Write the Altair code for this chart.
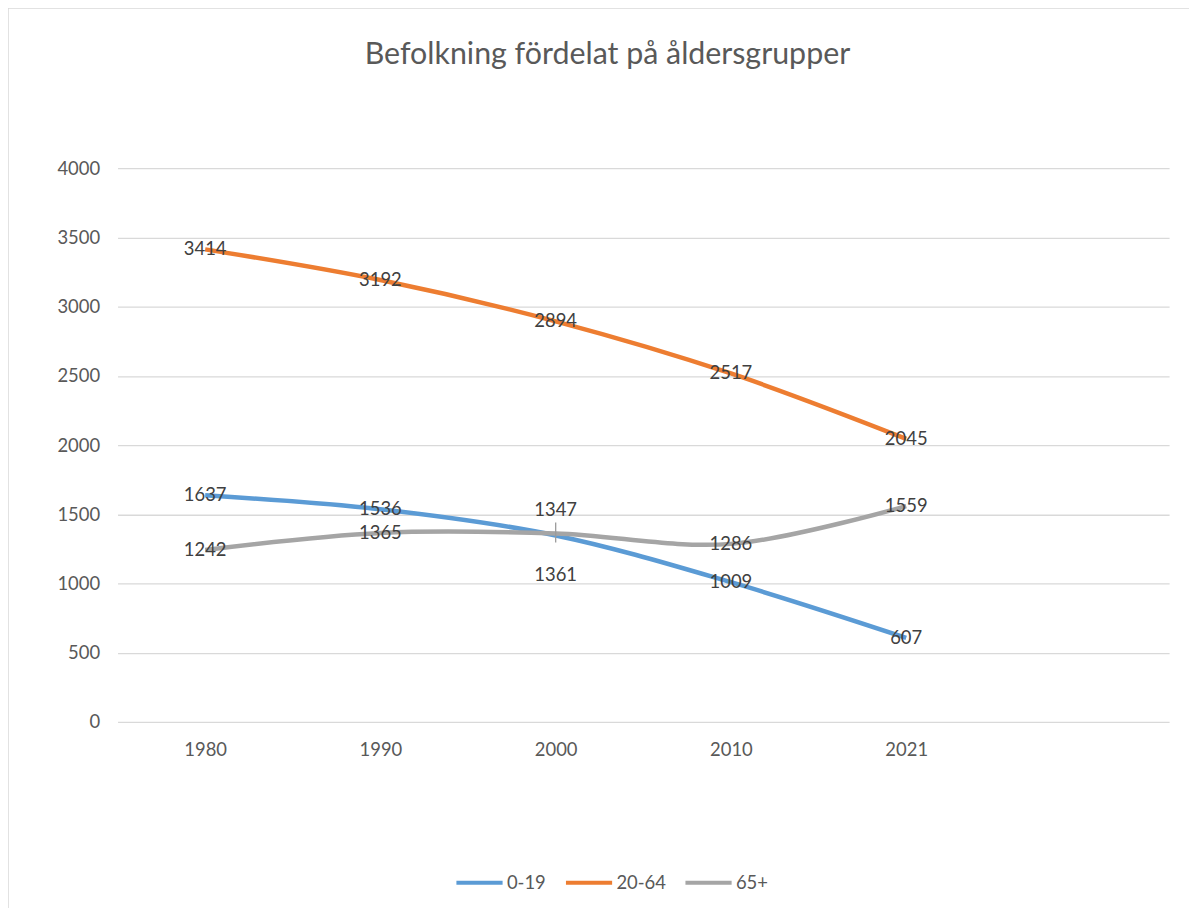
import altair as alt
import pandas as pd

years = ["1980", "1990", "2000", "2010", "2021"]
x_domain = years + [""]
groups = ["0-19", "20-64", "65+"]
v_0_19 = [1637, 1536, 1347, 1009, 607]
v_20_64 = [3414, 3192, 2894, 2517, 2045]
v_65 = [1242, 1365, 1361, 1286, 1559]
colors = ["#5B9BD5", "#ED7D31", "#A5A5A5"]
title_text = "Befolkning fördelat på åldersgrupper"

rows = []
for g, vals in zip(groups, [v_0_19, v_20_64, v_65]):
    for y, v in zip(years, vals):
        rows.append({"year": y, "group": g, "value": v})
df = pd.DataFrame(rows)

W, H = 1056, 556
FONT = "Lato"
TXT = "#595959"
FS = 18.5

x = alt.X("year:N", scale=alt.Scale(domain=x_domain, type="point", padding=0.5),
          axis=alt.Axis(title=None, labelAngle=0, domain=False, ticks=False,
                        labelPadding=19, labelFontSize=FS, labelColor=TXT, labelFont=FONT))
y = alt.Y("value:Q", scale=alt.Scale(domain=[0, 4000], nice=False),
          axis=alt.Axis(title=None, values=list(range(0, 4001, 500)), format="d",
                        domain=False, ticks=False,
                        labelPadding=18, labelFontSize=FS, labelColor=TXT, labelFont=FONT,
                        gridColor="#D9D9D9", gridWidth=1.3))
color = alt.Color("group:N", scale=alt.Scale(domain=groups, range=colors),
                  legend=alt.Legend(title=None, orient="none", direction="horizontal",
                                    legendX=338, legendY=692, symbolType="stroke",
                                    symbolSize=2150, symbolStrokeWidth=4,
                                    labelFontSize=FS, labelColor=TXT, labelFont=FONT,
                                    labelOffset=2, columnPadding=11))

base = alt.Chart(df)

border = alt.Chart(pd.DataFrame({"a": [0]})).mark_rect(
    fill=None, stroke="#D9D9D9", strokeWidth=1.5
).encode(x=alt.value(-110), x2=alt.value(W + 30), y=alt.value(-161), y2=alt.value(H + 200))

title = alt.Chart(pd.DataFrame({"t": [title_text]})).mark_text(
    font=FONT, fontSize=30.5, color=TXT, align="center", baseline="alphabetic"
).encode(x=alt.value(492), y=alt.value(-105), text="t:N")

lines = base.mark_line(strokeWidth=4.5, interpolate="catmull-rom").encode(x=x, y=y, color=color)

special = (alt.datum.year == "2000") & (alt.datum.group != "20-64")

lbl_main = base.transform_filter(~special).mark_text(
    fontSize=FS, color="#404040", font=FONT, baseline="middle", align="center"
).encode(x=x, y=y, text="value:Q")

lbl_up = base.transform_filter((alt.datum.year == "2000") & (alt.datum.group == "0-19")).mark_text(
    fontSize=FS, color="#404040", font=FONT, baseline="middle", align="center", dy=-26
).encode(x=x, y=y, text="value:Q")

lbl_down = base.transform_filter((alt.datum.year == "2000") & (alt.datum.group == "65+")).mark_text(
    fontSize=FS, color="#404040", font=FONT, baseline="middle", align="center", dy=42
).encode(x=x, y=y, text="value:Q")

leader = base.transform_filter((alt.datum.year == "2000") & (alt.datum.group == "65+")).mark_rule(
    color="#9A9A9A", strokeWidth=1.3, yOffset=-11, y2Offset=9
).encode(x=x, y=y, y2="value:Q")

chart = alt.layer(border, title, lines, leader, lbl_main, lbl_up, lbl_down).properties(
    width=W, height=H,
    autosize=alt.AutoSizeParams(type="none"),
    padding={"left": 110, "top": 159, "right": 20, "bottom": 185},
).configure_view(stroke=None)

chart.save("out.html", embed_options={"renderer": "svg", "actions": False})
